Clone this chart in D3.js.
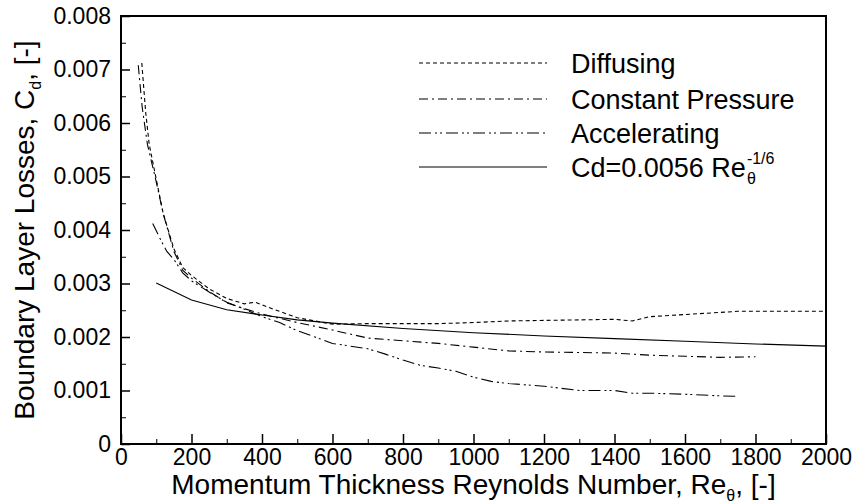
<!DOCTYPE html>
<html>
<head>
<meta charset="utf-8">
<script src="https://cdn.jsdelivr.net/npm/d3@7"></script>
<style>
  body { margin: 0; background: #fff; }
  text { font-family: "Liberation Sans", Arial, sans-serif; fill: #000; }
</style>
</head>
<body>
<svg id="chart" width="853" height="504"></svg>
<script>
// values (Re_theta, Cd)
const diffRe = [59, 70, 80, 100, 120, 150, 175, 200, 250, 300, 350, 380, 420, 500, 600, 700, 800, 900, 1000, 1100, 1200, 1300, 1400, 1450, 1500, 1600, 1700, 1750, 1800, 1900, 2000];
const diffCd = [0.00712, 0.0062, 0.0056, 0.00495, 0.0043, 0.00365, 0.0033, 0.00315, 0.0029, 0.00272, 0.00262, 0.00265, 0.00255, 0.00236, 0.00224, 0.00225, 0.00225, 0.00225, 0.00227, 0.0023, 0.00231, 0.00232, 0.00233, 0.0023, 0.00238, 0.00242, 0.00246, 0.00248, 0.00248, 0.00248, 0.00248];

const cpRe = [49, 60, 75, 100, 120, 150, 175, 200, 250, 300, 350, 400, 500, 600, 700, 800, 900, 1000, 1100, 1200, 1300, 1400, 1500, 1600, 1700, 1800];
const cpCd = [0.00708, 0.0063, 0.0056, 0.0049, 0.0043, 0.0036, 0.00325, 0.0031, 0.00285, 0.00264, 0.00253, 0.00243, 0.00227, 0.00213, 0.00198, 0.00193, 0.00188, 0.00181, 0.00174, 0.00172, 0.00171, 0.0017, 0.00166, 0.00164, 0.00162, 0.00163];

const accRe = [90, 110, 130, 150, 175, 200, 250, 300, 350, 400, 450, 500, 550, 600, 650, 700, 750, 800, 850, 900, 950, 1000, 1050, 1100, 1200, 1300, 1400, 1450, 1500, 1600, 1700, 1750];
const accCd = [0.00412, 0.00385, 0.0036, 0.00345, 0.0032, 0.00305, 0.00284, 0.00265, 0.00252, 0.00238, 0.00227, 0.00212, 0.002, 0.00188, 0.00183, 0.00178, 0.00168, 0.00157, 0.00147, 0.00142, 0.00136, 0.00125, 0.00117, 0.00113, 0.00108, 0.001, 0.001, 0.00095, 0.00095, 0.00093, 0.0009, 0.00089];

const fitRe = [100, 200, 300, 400, 500, 600, 800, 1000, 1200, 1400, 1600, 1800, 2000];
const fitCd = [0.00301, 0.00269, 0.00251, 0.00241, 0.00232, 0.00226, 0.00216, 0.00208, 0.00202, 0.00197, 0.00192, 0.00187, 0.00183];

const xTicks = d3.range(0, 2001, 200);
const yTicks = d3.range(0, 0.0081, 0.001);

const seriesNames = ["Diffusing", "Constant Pressure", "Accelerating", "Cd=0.0056 Re"];
const dashes = ["4,3", "9,4,2,4", "12,4,2,3,2,4", null];

const width = 853, height = 504;
const margin = { left: 121, right: 27, top: 16, bottom: 60 };

const svg = d3.select("#chart");

const x = d3.scaleLinear().domain([0, 2000]).range([margin.left, width - margin.right]);
const y = d3.scaleLinear().domain([0, 0.008]).range([height - margin.bottom, margin.top]);

// minor ticks
svg.append("g")
  .attr("transform", `translate(0,${y(0)})`)
  .call(d3.axisBottom(x).tickValues(d3.range(100, 2000, 200)).tickSize(-5).tickFormat(""))
  .call(g => g.select(".domain").remove());
svg.append("g")
  .attr("transform", `translate(${x(0)},0)`)
  .call(d3.axisLeft(y).tickValues(d3.range(0.0005, 0.008, 0.001)).tickSize(-5).tickFormat(""))
  .call(g => g.select(".domain").remove());

// major ticks + labels
const xAxis = svg.append("g")
  .attr("transform", `translate(0,${y(0)})`)
  .call(d3.axisBottom(x).tickValues(xTicks).tickSize(-10).tickPadding(5).tickFormat(d3.format("d")));
const yAxis = svg.append("g")
  .attr("transform", `translate(${x(0)},0)`)
  .call(d3.axisLeft(y).tickValues(yTicks).tickSize(-9).tickPadding(10)
    .tickFormat(d => d === 0 ? "0" : d3.format(".3f")(d)));

[xAxis, yAxis].forEach(g => {
  g.selectAll("text").style("font-size", "23px").attr("fill", "#000")
    .style("font-family", '"Liberation Sans", Arial, sans-serif');
  g.selectAll(".tick line").attr("stroke", "#000").attr("stroke-width", 1.5);
  g.select(".domain").remove();
});

// frame
svg.append("rect")
  .attr("x", x(0)).attr("y", y(0.008))
  .attr("width", x(2000) - x(0)).attr("height", y(0) - y(0.008))
  .attr("fill", "none").attr("stroke", "#000").attr("stroke-width", 2);

// curves
const line = d3.line().x(d => x(d[0])).y(d => y(d[1]));
const series = [
  d3.zip(diffRe, diffCd),
  d3.zip(cpRe, cpCd),
  d3.zip(accRe, accCd),
  d3.zip(fitRe, fitCd)
];
series.forEach((pts, i) => {
  svg.append("path")
    .datum(pts)
    .attr("d", line)
    .attr("fill", "none")
    .attr("stroke", "#000")
    .attr("stroke-width", 1.1)
    .attr("stroke-dasharray", dashes[i]);
});

// legend
const legend = svg.append("g");
const legY = [63, 99, 133, 167];
seriesNames.forEach((name, i) => {
  legend.append("line")
    .attr("x1", 419).attr("x2", 547)
    .attr("y1", legY[i]).attr("y2", legY[i])
    .attr("stroke", "#000").attr("stroke-width", 1.1)
    .attr("stroke-dasharray", dashes[i]);
  const t = legend.append("text")
    .attr("x", 571).attr("y", legY[i] + 10)
    .style("font-size", "27px")
    .text(name);
  if (i === 3) {
    const bb = t.node().getBBox();
    legend.append("text").attr("x", bb.x + bb.width + 1).attr("y", legY[i] - 3)
      .style("font-size", "16px").text("-1/6");
    legend.append("text").attr("x", bb.x + bb.width + 1).attr("y", legY[i] + 17)
      .style("font-size", "16px").text("θ");
  }
});

// axis titles
const xt = svg.append("text")
  .attr("x", (x(0) + x(2000)) / 2).attr("y", 494)
  .attr("text-anchor", "middle")
  .style("font-size", "28px");
xt.append("tspan").text("Momentum Thickness Reynolds Number, Re");
xt.append("tspan").attr("dy", 7).style("font-size", "16px").text("θ");
xt.append("tspan").attr("dy", -7).text(", [-]");

const yt = svg.append("text")
  .attr("transform", `translate(34,${(y(0) + y(0.008)) / 2}) rotate(-90)`)
  .attr("text-anchor", "middle")
  .style("font-size", "28px");
yt.append("tspan").text("Boundary Layer Losses, C");
yt.append("tspan").attr("dy", 7).style("font-size", "16px").text("d");
yt.append("tspan").attr("dy", -7).text(", [-]");
</script>
</body>
</html>
